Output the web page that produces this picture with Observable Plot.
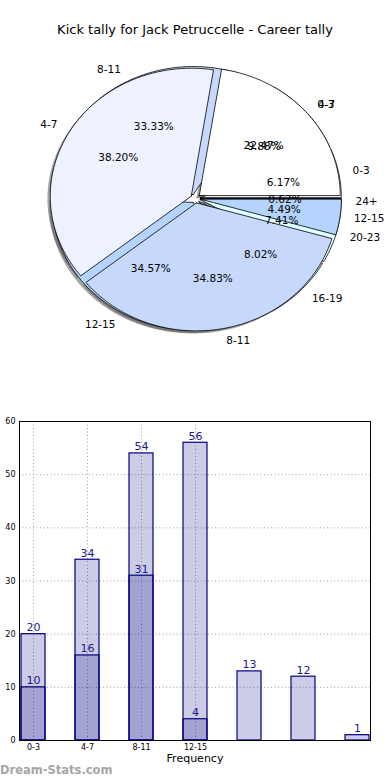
<!DOCTYPE html>
<html>
<head>
<meta charset="utf-8">
<script src="https://cdn.jsdelivr.net/npm/d3@7"></script>
<script src="https://cdn.jsdelivr.net/npm/@observablehq/plot@0.6"></script>
<style>
  html, body { margin: 0; padding: 0; background: #fff; }
  body { width: 390px; height: 780px; position: relative; overflow: hidden; font-family: "DejaVu Sans", sans-serif; }
  #title { position: absolute; top: 20px; left: 0; width: 390px; text-align: center; font-size: 13px; line-height: 20px; color: #000; }
  #pie { position: absolute; top: 40px; left: 0; }
  #bars { position: absolute; top: 410px; left: 0; }
  #mark { position: absolute; top: 762px; left: 0; font-size: 11.5px; font-weight: bold; color: #a6a6a6; line-height: 16px; }
</style>
</head>
<body>
<div id="title"></div>
<div id="pie"></div>
<div id="bars"></div>
<div id="mark">Dream-Stats.com</div>
<script>
// ---- data ----
const titleText = "Kick tally for Jack Petruccelle - Career tally";
const categories = ["0-3", "4-7", "8-11", "12-15", "16-19", "20-23", "24+"];
const seriesA = [20, 34, 31, 4];                 // first four categories
const seriesB = [10, 16, 54, 56, 13, 12, 1];     // all categories
const sliceColors = ["#ffffff", "#edf2fe", "#c6d9fd", "#b4d4fe", "#d2e2fd", "#e0ffff", "#3d3d5c"];
const yTicks = [0, 10, 20, 30, 40, 50, 60];
const xTickCats = ["0-3", "4-7", "8-11", "12-15"];
const xLabel = "Frequency";

document.getElementById("title").textContent = titleText;

// ---- pie geometry (unit circle, angles ccw from 3 o'clock) ----
const explode = 0.035;
const rad = Math.PI / 180;
function wedges(values, pie) {
  const total = d3.sum(values);
  let cum = 0;
  return values.map((v, i) => {
    const t0 = cum / total * 360; cum += v;
    const t1 = cum / total * 360;
    const mid = (t0 + t1) / 2;
    return {pie, i, id: pie + i, cat: categories[i], v, t0, t1, mid,
      pct: v / total * 100, color: sliceColors[i],
      ex: explode * Math.cos(mid * rad), ey: explode * Math.sin(mid * rad)};
  });
}
function outline(ws, dx = 0, dy = 0) {
  const pts = [];
  for (const w of ws) {
    pts.push({id: w.id, color: w.color, x: w.ex + dx, y: w.ey + dy});
    const n = Math.max(2, Math.ceil(w.t1 - w.t0));
    for (let k = 0; k <= n; k++) {
      const a = (w.t0 + (w.t1 - w.t0) * k / n) * rad;
      pts.push({id: w.id, color: w.color, x: w.ex + dx + Math.cos(a), y: w.ey + dy + Math.sin(a)});
    }
    pts.push({id: w.id, color: w.color, x: w.ex + dx, y: w.ey + dy});
  }
  return pts;
}
const wA = wedges(seriesA, "A");
const wB = wedges(seriesB, "B");
const allW = [...wB, ...wA];
const labels = allW.map(w => ({
  x: w.ex + 1.1 * Math.cos(w.mid * rad), y: w.ey + 1.1 * Math.sin(w.mid * rad), text: w.cat}));
const pcts = allW.map(w => ({
  x: w.ex + 0.6 * Math.cos(w.mid * rad), y: w.ey + 0.6 * Math.sin(w.mid * rad), text: w.pct.toFixed(2) + "%"}));

const pie = Plot.plot({
  width: 390, height: 340,
  margin: 0,
  style: {fontFamily: "DejaVu Sans", background: "transparent"},
  x: {domain: [-1, 1], range: [54, 336], axis: null},
  y: {domain: [-1, 1], range: [286, 30], axis: null},
  color: {type: "identity"},
  marks: [
    Plot.line(outline(allW, -0.02, -0.02), {x: "x", y: "y", z: "id", fill: "#4d4d4d", fillOpacity: 0.5, stroke: "none"}),
    Plot.line(outline(wB), {x: "x", y: "y", z: "id", fill: "color", stroke: "#000", strokeWidth: 0.8}),
    Plot.line(outline(wA), {x: "x", y: "y", z: "id", fill: "color", stroke: "#000", strokeWidth: 0.8}),
    Plot.text(labels.filter(d => d.x > 0), {x: "x", y: "y", text: "text", textAnchor: "start", fontSize: 10.5, fill: "#000"}),
    Plot.text(labels.filter(d => d.x <= 0), {x: "x", y: "y", text: "text", textAnchor: "end", fontSize: 10.5, fill: "#000"}),
    Plot.text(pcts, {x: "x", y: "y", text: "text", fontSize: 10.5, fill: "#000"})
  ]
});
document.getElementById("pie").appendChild(pie);

// ---- bar chart ----
const barsA = seriesA.map((v, i) => ({cat: categories[i], v}));
const barsB = seriesB.map((v, i) => ({cat: categories[i], v}));
const gridStyle = {stroke: "#a0a0a0", strokeOpacity: 1, strokeDasharray: "1,2.5", strokeWidth: 1};
const barStyle = {x: "cat", y: "v", fill: "#000080", fillOpacity: 0.2, stroke: "#000080", strokeWidth: 1.2};
const bars = Plot.plot({
  width: 390, height: 360,
  marginLeft: 19, marginRight: 20, marginTop: 11, marginBottom: 30,
  style: {fontFamily: "DejaVu Sans", background: "transparent", color: "#000"},
  x: {type: "band", domain: categories, paddingInner: 0.556, paddingOuter: 0, axis: null},
  y: {domain: [0, 60], axis: null},
  marks: [
    Plot.gridY(yTicks.slice(1, -1), gridStyle),
    Plot.gridX(xTickCats, gridStyle),
    Plot.barY(barsB, barStyle),
    Plot.barY(barsA, barStyle),
    Plot.text(barsB, {x: "cat", y: "v", text: d => String(d.v), lineAnchor: "bottom", dy: -3, fontSize: 11, fill: "#1a1a8c"}),
    Plot.text(barsA, {x: "cat", y: "v", text: d => String(d.v), lineAnchor: "bottom", dy: -3, fontSize: 11, fill: "#1a1a8c"}),
    Plot.frame({stroke: "#000", strokeWidth: 1, shapeRendering: "crispEdges"}),
    Plot.axisY(yTicks, {tickSize: 0, tickPadding: 4, fontSize: 8, label: null}),
    Plot.axisX(xTickCats, {tickSize: 0, tickPadding: 4, fontSize: 8, label: null}),
    Plot.text([xLabel], {frameAnchor: "bottom", dy: 21, fontSize: 11, fill: "#000"})
  ]
});
document.getElementById("bars").appendChild(bars);
</script>
</body>
</html>
